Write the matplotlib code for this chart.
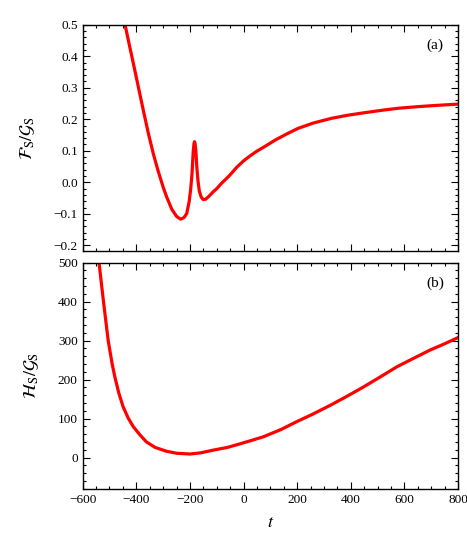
import matplotlib
matplotlib.use('Agg')
import matplotlib.pyplot as plt
from matplotlib.ticker import MultipleLocator

# ── Data ──────────────────────────────────────────────────────
t_top = [-442, -425, -411, -390, -374, -355, -337, -320, -300, -287, -268,
         -250, -235, -222, -212, -203, -197, -192, -188, -185, -183, -181,
         -178, -174, -170, -165, -158, -150, -142, -130, -113, -100, -82,
         -65, -51, -25, 0, 23, 50, 78, 120, 160, 203, 260, 328, 390, 453,
         520, 578, 650, 720, 800]
f_ratio = [0.50, 0.432, 0.377, 0.293, 0.229, 0.155, 0.092, 0.040, -0.015,
           -0.046, -0.085, -0.108, -0.117, -0.112, -0.099, -0.062, -0.020,
           0.030, 0.095, 0.122, 0.129, 0.124, 0.100, 0.045, 0.005, -0.028,
           -0.047, -0.055, -0.054, -0.045, -0.030, -0.020, -0.003, 0.011,
           0.023, 0.048, 0.068, 0.083, 0.099, 0.113, 0.135, 0.153, 0.171,
           0.188, 0.203, 0.213, 0.221, 0.229, 0.235, 0.240, 0.244, 0.248]

t_bot = [-539, -523, -505, -490, -480, -465, -449, -430, -411, -385, -362,
         -330, -287, -250, -200, -160, -113, -60, -14, 30, 73, 140, 198,
         260, 323, 385, 447, 510, 572, 635, 696, 750, 800]
h_ratio = [500, 404, 301, 240, 207, 165, 130, 101, 79, 57, 40, 26, 16, 11,
           9, 12, 19, 26, 35, 44, 53, 72, 92, 112, 134, 157, 181, 207, 233,
           255, 276, 292, 308]

plt.rcParams['font.family'] = ['Liberation Serif', 'DejaVu Serif']
plt.rcParams['mathtext.fontset'] = 'stix'

RED = '#FF0000'

fig = plt.figure(figsize=(4.67, 5.45), dpi=100)
ax1 = fig.add_axes([0.177, 0.540, 0.804, 0.4147])
ax2 = fig.add_axes([0.177, 0.1033, 0.804, 0.4147])

ax1.plot(t_top, f_ratio, color=RED, lw=2.3, solid_joinstyle='round')
ax2.plot(t_bot, h_ratio, color=RED, lw=2.3, solid_joinstyle='round')

ax1.set_ylim(-0.217, 0.5)
ax2.set_ylim(-80, 500)
for ax in (ax1, ax2):
    ax.set_xlim(-600, 800)
    ax.xaxis.set_major_locator(MultipleLocator(200))
    ax.xaxis.set_minor_locator(MultipleLocator(50))
    ax.tick_params(which='both', direction='in', top=True, right=True,
                   labelsize=9.5, width=0.8)
    ax.tick_params(which='major', length=5)
    ax.tick_params(which='minor', length=2.5)
    for s in ax.spines.values():
        s.set_linewidth(1.0)

ax1.yaxis.set_major_locator(MultipleLocator(0.1))
ax1.yaxis.set_minor_locator(MultipleLocator(0.02))
ax1.yaxis.set_major_formatter(plt.FuncFormatter(lambda v, p: f'{v:.1f}'.replace('-', '\u2212')))
ax1.tick_params(axis='x', labelbottom=False)
ax2.yaxis.set_major_locator(MultipleLocator(100))
ax2.yaxis.set_minor_locator(MultipleLocator(20))

ax1.set_ylabel(r'$\mathcal{F}_\mathrm{S}/\mathcal{G}_\mathrm{S}$', fontsize=13, labelpad=12)
ax2.set_ylabel(r'$\mathcal{H}_\mathrm{S}/\mathcal{G}_\mathrm{S}$', fontsize=13, labelpad=12)
ax2.set_xlabel(r'$t$', fontsize=13, labelpad=6)

ax1.text(0.938, 0.907, '(a)', transform=ax1.transAxes, ha='center', va='center', fontsize=11)
ax2.text(0.938, 0.909, '(b)', transform=ax2.transAxes, ha='center', va='center', fontsize=11)

plt.savefig('out.png', dpi=100)
